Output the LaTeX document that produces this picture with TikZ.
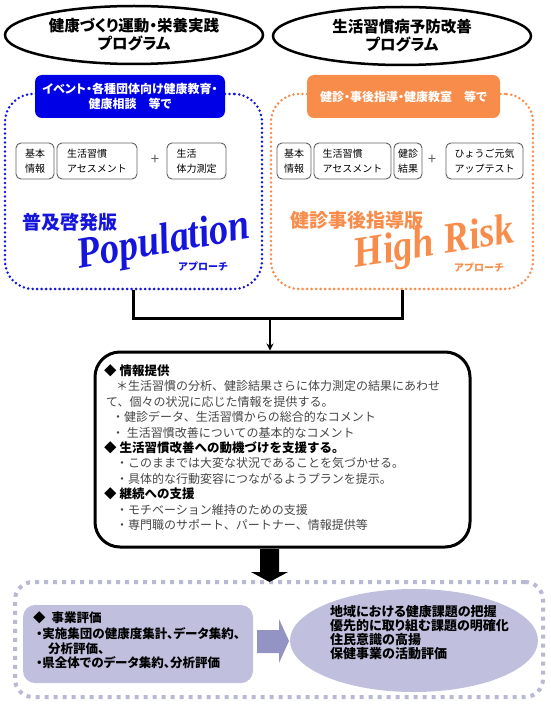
\documentclass[tikz,border=0pt]{standalone}
\usepackage{fontspec}
\setmainfont{Noto Sans CJK JP}
\newfontfamily\jpp{Noto Sans CJK JP}[RawFeature=+palt]
\newfontfamily\lat{Liberation Serif}
\usetikzlibrary{shapes.geometric,arrows.meta}
\definecolor{popblue}{RGB}{20,20,220}
\definecolor{labblue}{RGB}{0,0,230}
\definecolor{riskor}{RGB}{247,140,75}
\definecolor{lav}{RGB}{192,192,222}
\definecolor{lavdot}{RGB}{185,185,212}
\definecolor{lavarrow}{RGB}{148,148,196}
\definecolor{boxgray}{RGB}{95,95,95}
\definecolor{bodygray}{RGB}{70,70,70}
\begin{document}
\begin{tikzpicture}[x=1pt,y=-1pt,
  progell/.style={ellipse, draw, line width=2.5pt, minimum width=258pt, minimum height=58pt, inner sep=0pt, align=center, font=\jpp\bfseries\fontsize{15.5}{18}\selectfont},
  labbox/.style={rounded corners=7pt, minimum height=43pt, inner sep=0pt, text=white, align=center, font=\jpp\bfseries\fontsize{12}{15}\selectfont},
  dotframe/.style={draw, line width=2.8pt, dash pattern=on 0pt off 4.5pt, line cap=round, rounded corners=28pt, minimum height=195pt, inner sep=0pt},
  smallbox/.style={draw=boxgray, line width=0.9pt, rounded corners=5pt, minimum height=36pt, inner sep=0pt, align=left, font=\fontsize{10}{15}\selectfont},
  plus/.style={font=\fontsize{15}{15}\selectfont, text=boxgray, inner sep=0pt},
  popword/.style={inner sep=0pt, font=\lat\bfseries\itshape\fontsize{44}{44}\selectfont},
  riskword/.style={inner sep=0pt, font=\lat\bfseries\itshape\fontsize{43}{43}\selectfont},
  approach/.style={inner sep=0pt, font=\bfseries\fontsize{10}{10}\selectfont},
  vername/.style={anchor=west, inner sep=0pt, font=\bfseries\fontsize{19}{19}\selectfont},
  bracket/.style={line width=3pt},
  head/.style={anchor=west, inner sep=0pt, font=\bfseries\fontsize{12.5}{15}\selectfont},
  body/.style={anchor=west, inner sep=0pt, text=bodygray, font=\fontsize{12}{15}\selectfont},
  evtext/.style={anchor=west, inner sep=0pt, font=\jpp\bfseries\fontsize{12.5}{15}\selectfont},
  ertext/.style={anchor=west, inner sep=0pt, font=\jpp\bfseries\fontsize{13}{15}\selectfont}
]
\useasboundingbox (0,0) rectangle (550,706);

% top ellipses
\node[progell] (progL) at (134,35) {健康づくり運動・栄養実践\\プログラム};
\node[progell] (progR) at (402,36) {生活習慣病予防改善\\プログラム};

% dotted frames
\node[dotframe, draw=popblue, minimum width=257pt] (popbox) at (133.5,191.5) {};
\node[dotframe, draw=riskor, minimum width=262pt] (riskbox) at (402,191.5) {};

% labels
\node[labbox, fill=labblue, minimum width=190pt] (labL) at (130,96.5) {イベント・各種団体向け健康教育・\\健康相談　等で};
\node[labbox, fill=riskor, minimum width=193pt] (labR) at (403.5,96.5) {健診・事後指導・健康教室　等で};

% small boxes left
\node[smallbox, minimum width=38pt] (bL1) at (35,161) {基本\\情報};
\node[smallbox, minimum width=80pt] (bL2) at (97,161) {生活習慣\\アセスメント};
\node[plus] (pL) at (155,160) {+};
\node[smallbox, minimum width=59pt] (bL3) at (196.5,161) {生活\\体力測定};

% small boxes right
\node[smallbox, minimum width=34pt] (bR1) at (294,161) {基本\\情報};
\node[smallbox, minimum width=77pt] (bR2) at (352.5,161) {生活習慣\\アセスメント};
\node[smallbox, minimum width=28pt] (bR3) at (408,161) {健診\\結果};
\node[plus] (pR) at (432,160) {+};
\node[smallbox, minimum width=77pt] (bR4) at (484.5,161) {ひょうご元気\\アップテスト};

% version names
\node[vername, text=popblue] (verL) at (22,222) {普及啓発版};
\node[vername, text=riskor] (verR) at (290,220) {健診事後指導版};
\node[popword, text=popblue, rotate=10] (popw) at (164,243) {\scalebox{0.87}[1]{Population}};
\node[riskword, text=riskor, rotate=9] (riskw) at (434,245) {\scalebox{0.9}[1]{High Risk}};
\node[approach, text=popblue] (apL) at (203,267) {アプローチ};
\node[approach, text=riskor] (apR) at (479,268) {アプローチ};

% main box
\node[draw, line width=3pt, rounded corners=25pt, minimum width=375pt, minimum height=195pt, inner sep=0pt] (infobox) at (282.5,449.5) {};

% bracket connector
\coordinate (junc) at (270,318);
\draw[bracket] (popbox.south) |- (junc) -| (riskbox.south);
\draw[line width=2pt, -{Stealth[length=7pt,width=7pt]}] (junc) -- (junc |- infobox.north);

% main box text
\node[head] (m1) at (104,371) {◆\hspace{3pt}情報提供};
\node[body] (m2) at (116,386.4) {＊生活習慣の分析、健診結果さらに体力測定の結果にあわせ};
\node[body] (m3) at (106,401.8) {て、個々の状況に応じた情報を提供する。};
\node[body] (m4) at (112,417.2) {・健診データ、生活習慣からの総合的なコメント};
\node[body] (m5) at (112,432.6) {・ 生活習慣改善についての基本的なコメント};
\node[head] (m6) at (104,448) {◆\hspace{3pt}生活習慣改善への動機づけを支援する。};
\node[body] (m7) at (116,463.4) {・このままでは大変な状況であることを気づかせる。};
\node[body] (m8) at (116,478.8) {・具体的な行動変容につながるようプランを提示。};
\node[head] (m9) at (104,494.2) {◆\hspace{3pt}継続への支援};
\node[body] (m10) at (116,509.6) {・モチベーション維持のための支援};
\node[body] (m11) at (116,525) {・専門職のサポート、パートナー、情報提供等};

% bottom frame
\node[draw=lavdot, line width=4pt, dash pattern=on 4pt off 5pt, rounded corners=18pt, minimum width=528pt, minimum height=115pt, inner sep=0pt] (evalframe) at (279,639.5) {};
\node[fill=lav, rounded corners=12pt, minimum width=230pt, minimum height=78pt, inner sep=0pt] (evalL) at (138,644) {};
\node[ellipse, fill=lav, minimum width=248pt, minimum height=103pt, inner sep=0pt] (evalR) at (414,640.5) {};

% big black arrow
\fill[black] (260,549) -- (279,549) -- (279,572) -- (288,572) -- (269.5,582) -- (251,572) -- (260,572) -- cycle;
% middle arrow
\fill[lavarrow] (257,630) -- (279,630) -- (279,619) -- (289,641) -- (279,663) -- (279,653) -- (257,653) -- cycle;

% bottom texts
\node[evtext] (e1) at (33,618) {◆\hspace{6pt}事業評価};
\node[evtext] (e2) at (36,634) {・実施集団の健康度集計、データ集約、};
\node[evtext] (e3) at (48,648.5) {分析評価、};
\node[evtext] (e4) at (36,663) {・県全体でのデータ集約、分析評価};

\node[ertext] (r1) at (330,612) {地域における健康課題の把握};
\node[ertext] (r2) at (330,625.5) {優先的に取り組む課題の明確化};
\node[ertext] (r3) at (330,639.5) {住民意識の高揚};
\node[ertext] (r4) at (330,653.5) {保健事業の活動評価};
\end{tikzpicture}
\end{document}
